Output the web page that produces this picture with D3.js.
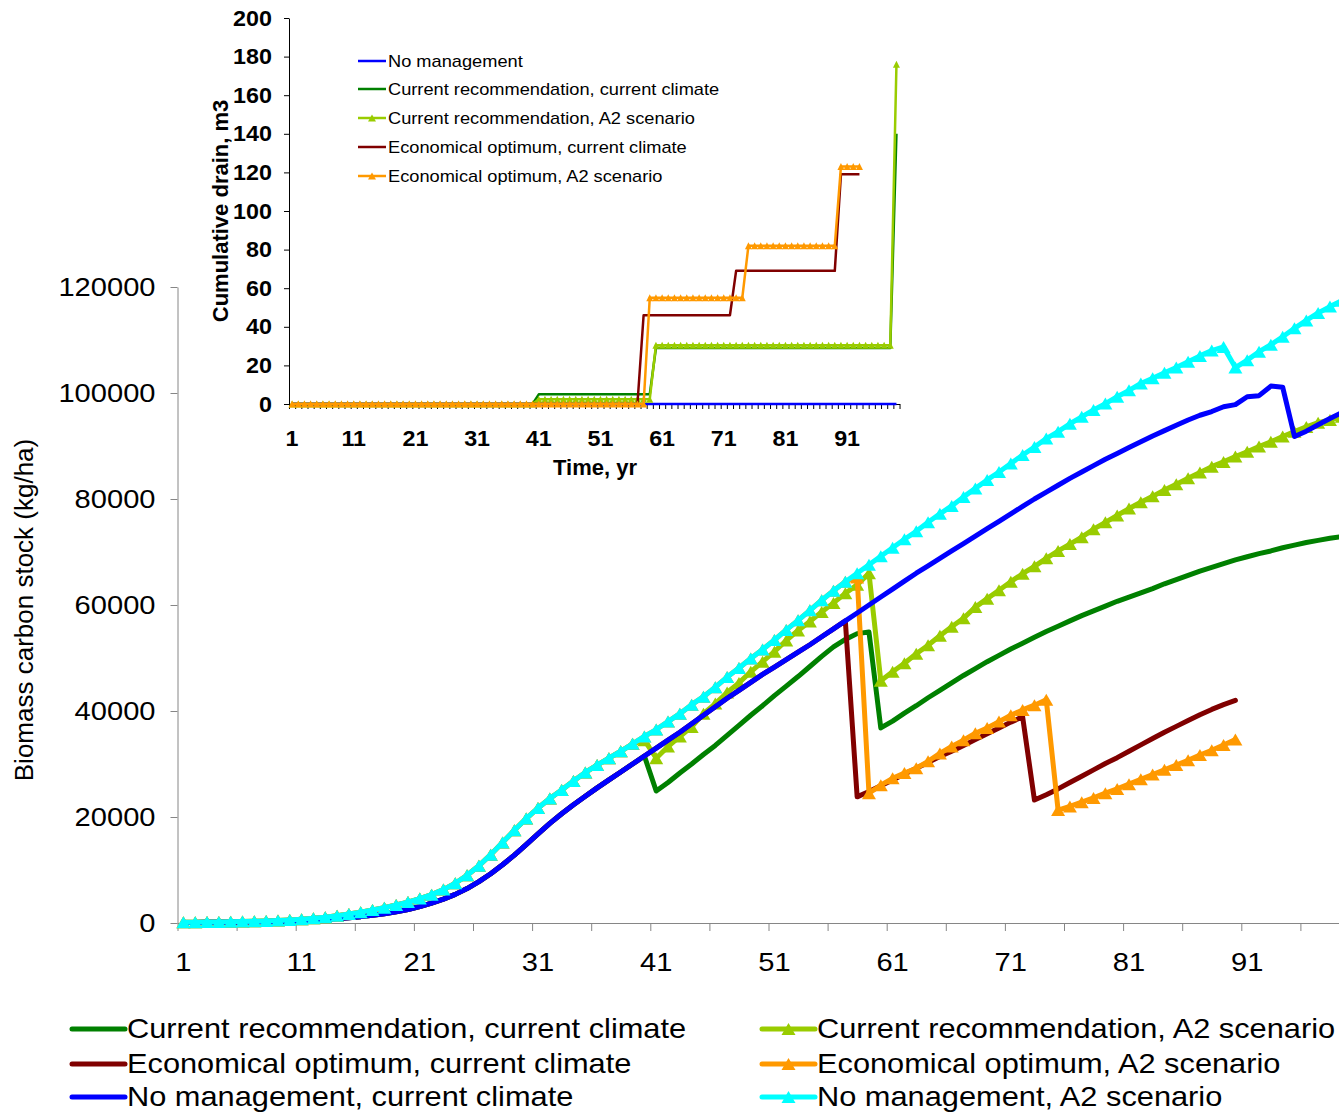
<!DOCTYPE html>
<html>
<head>
<meta charset="utf-8">
<script src="https://cdn.jsdelivr.net/npm/d3@7"></script>
<style>
  body { margin: 0; background: #fff; }
  svg { display: block; font-family: Arial, "Liberation Sans", sans-serif; }
</style>
</head>
<body>
<svg id="chart" width="1339" height="1112"></svg>
<script>
// ---- data ----
const years = d3.range(1, 100);
const xLabels = [1, 11, 21, 31, 41, 51, 61, 71, 81, 91];
const yTicks = [0, 20000, 40000, 60000, 80000, 100000, 120000];
const insetYTicks = [0, 20, 40, 60, 80, 100, 120, 140, 160, 180, 200];

const seriesNames = [
	"Current recommendation, current climate",
	"Current recommendation, A2 scenario",
	"Economical optimum, current climate",
	"Economical optimum, A2 scenario",
	"No management, current climate",
	"No management, A2 scenario"
];
const insetNames = [
	"No management",
	"Current recommendation, current climate",
	"Current recommendation, A2 scenario",
	"Economical optimum, current climate",
	"Economical optimum, A2 scenario"
];

// biomass carbon stock, kg/ha, year 1..
const recCurrent = [
	100, 110, 120, 140, 160, 190, 220, 260, 310, 380,
	460, 560, 680, 830, 1000, 1200, 1450, 1750, 2100, 2550,
	3100, 3750, 4500, 5400, 6500, 7800, 9300, 11000, 12800, 14800,
	16800, 18800, 20600, 22300, 23900, 25500, 27000, 28500, 30000, 31500,
	24900, 26500, 28300, 30000, 31800, 33500, 35400, 37300, 39200, 41000,
	42900, 44700, 46500, 48400, 50300, 52100, 53500, 54600, 54900, 36800,
	38100, 39600, 41000, 42500, 43900, 45300, 46700, 48000, 49300, 50500,
	51700, 52800, 53900, 55000, 56000, 57000, 58000, 58900, 59800, 60700,
	61500, 62300, 63100, 64000, 64800, 65600, 66400, 67100, 67800, 68500,
	69100, 69700, 70200, 70800, 71300, 71800, 72200, 72600, 72900
];
const recA2 = [
	150, 160, 180, 200, 230, 270, 320, 380, 460, 560,
	700, 880, 1100, 1380, 1700, 2050, 2450, 2900, 3400, 3950,
	4600, 5350, 6300, 7500, 9000, 10800, 12900, 15200, 17500, 19700,
	21700, 23500, 25100, 26800, 28400, 29800, 31100, 32400, 33800, 34500,
	31100, 33300, 35200, 37000, 39500, 41400, 43500, 45300, 47400, 49300,
	51200, 53300, 55200, 56900, 58700, 60400, 62200, 63800, 66000, 45700,
	47400, 49000, 50800, 52400, 54200, 55900, 57500, 59600, 61200, 62800,
	64400, 65900, 67300, 68800, 70200, 71500, 72800, 74300, 75600, 76900,
	78200, 79400, 80500, 81700, 82800, 83900, 85000, 86100, 87000, 88000,
	88900, 89900, 90800, 91800, 92700, 93600, 94400, 94900, 95500
];
const ecoCurrent = [
	100, 110, 120, 140, 160, 190, 220, 260, 310, 380,
	460, 560, 680, 830, 1000, 1200, 1450, 1750, 2100, 2550,
	3100, 3750, 4500, 5400, 6500, 7800, 9300, 11000, 12800, 14800,
	16800, 18800, 20600, 22300, 23900, 25500, 27000, 28500, 30000, 31500,
	33000, 34500, 36000, 37600, 39200, 40800, 42400, 43900, 45400, 46900,
	48300, 49700, 51100, 52500, 54000, 55500, 57000, 23800, 24800, 25900,
	27000, 28100, 29200, 30300, 31400, 32400, 33500, 34600, 35700, 36800,
	37900, 38900, 23200, 24200, 25300, 26500, 27700, 28900, 30100, 31200,
	32400, 33600, 34800, 36000, 37100, 38200, 39300, 40300, 41200, 42000
];
const ecoA2 = [
	150, 160, 180, 200, 230, 270, 320, 380, 460, 560,
	700, 880, 1100, 1380, 1700, 2050, 2450, 2900, 3400, 3950,
	4600, 5350, 6300, 7500, 9000, 10800, 12900, 15200, 17500, 19700,
	21700, 23500, 25100, 26800, 28400, 29800, 31100, 32400, 33800, 35200,
	36500, 38000, 39500, 41200, 42700, 44500, 46400, 48100, 49900, 51600,
	53400, 55300, 57100, 59000, 60900, 62700, 64400, 65200, 24500, 26000,
	27300, 28300, 29200, 30500, 32000, 33300, 34500, 35800, 36800, 38000,
	39200, 40200, 41100, 42100, 21300, 22000, 22800, 23600, 24500, 25300,
	26200, 27100, 28000, 28900, 29800, 30700, 31700, 32600, 33600, 34600
];
const noneCurrent = [
	100, 110, 120, 140, 160, 190, 220, 260, 310, 380,
	460, 560, 680, 830, 1000, 1200, 1450, 1750, 2100, 2550,
	3100, 3750, 4500, 5400, 6500, 7800, 9300, 11000, 12800, 14800,
	16800, 18800, 20600, 22300, 23900, 25500, 27000, 28500, 30000, 31500,
	33000, 34500, 36000, 37600, 39200, 40800, 42400, 43900, 45400, 46900,
	48300, 49700, 51100, 52500, 54000, 55500, 57000, 58500, 60000, 61500,
	63000, 64500, 66000, 67400, 68800, 70200, 71600, 73000, 74400, 75800,
	77200, 78600, 80000, 81300, 82600, 83900, 85100, 86300, 87500, 88600,
	89700, 90800, 91900, 92900, 93900, 94900, 95800, 96500, 97400, 97800,
	99300, 99500, 101300, 101100, 91800, 92800, 94000, 95200, 96300
];
const noneA2 = [
	150, 160, 180, 200, 230, 270, 320, 380, 460, 560,
	700, 880, 1100, 1380, 1700, 2050, 2450, 2900, 3400, 3950,
	4600, 5350, 6300, 7500, 9000, 10800, 12900, 15200, 17500, 19700,
	21700, 23500, 25100, 26800, 28400, 29800, 31100, 32400, 33800, 35200,
	36500, 38000, 39500, 41200, 42700, 44500, 46400, 48100, 49900, 51600,
	53400, 55300, 57100, 59000, 60900, 62700, 64400, 66000, 67600, 69200,
	70800, 72400, 73900, 75600, 77200, 78700, 80400, 82000, 83600, 85100,
	86700, 88300, 89800, 91400, 92700, 94200, 95500, 96800, 98000, 99300,
	100500, 101800, 102800, 103800, 104800, 105900, 107000, 108000, 108700, 104800,
	106200, 107800, 109100, 110600, 112200, 113700, 115100, 116300, 117400
];

// cumulative drain, m3, year 1..
const drainNone = [
	0, 0, 0, 0, 0, 0, 0, 0, 0, 0,
	0, 0, 0, 0, 0, 0, 0, 0, 0, 0,
	0, 0, 0, 0, 0, 0, 0, 0, 0, 0,
	0, 0, 0, 0, 0, 0, 0, 0, 0, 0,
	0, 0, 0, 0, 0, 0, 0, 0, 0, 0,
	0, 0, 0, 0, 0, 0, 0, 0, 0, 0,
	0, 0, 0, 0, 0, 0, 0, 0, 0, 0,
	0, 0, 0, 0, 0, 0, 0, 0, 0, 0,
	0, 0, 0, 0, 0, 0, 0, 0, 0, 0,
	0, 0, 0, 0, 0, 0, 0, 0, 0
];
const drainRecCurrent = [
	0, 0, 0, 0, 0, 0, 0, 0, 0, 0,
	0, 0, 0, 0, 0, 0, 0, 0, 0, 0,
	0, 0, 0, 0, 0, 0, 0, 0, 0, 0,
	0, 0, 0, 0, 0, 0, 0, 0, 0, 0,
	5, 5, 5, 5, 5, 5, 5, 5, 5, 5,
	5, 5, 5, 5, 5, 5, 5, 5, 5, 29,
	29, 29, 29, 29, 29, 29, 29, 29, 29, 29,
	29, 29, 29, 29, 29, 29, 29, 29, 29, 29,
	29, 29, 29, 29, 29, 29, 29, 29, 29, 29,
	29, 29, 29, 29, 29, 29, 29, 29, 140
];
const drainRecA2 = [
	0, 0, 0, 0, 0, 0, 0, 0, 0, 0,
	0, 0, 0, 0, 0, 0, 0, 0, 0, 0,
	0, 0, 0, 0, 0, 0, 0, 0, 0, 0,
	0, 0, 0, 0, 0, 0, 0, 0, 0, 0,
	2.5, 2.5, 2.5, 2.5, 2.5, 2.5, 2.5, 2.5, 2.5, 2.5,
	2.5, 2.5, 2.5, 2.5, 2.5, 2.5, 2.5, 2.5, 2.5, 30.5,
	30.5, 30.5, 30.5, 30.5, 30.5, 30.5, 30.5, 30.5, 30.5, 30.5,
	30.5, 30.5, 30.5, 30.5, 30.5, 30.5, 30.5, 30.5, 30.5, 30.5,
	30.5, 30.5, 30.5, 30.5, 30.5, 30.5, 30.5, 30.5, 30.5, 30.5,
	30.5, 30.5, 30.5, 30.5, 30.5, 30.5, 30.5, 30.5, 176
];
const drainEcoCurrent = [
	0, 0, 0, 0, 0, 0, 0, 0, 0, 0,
	0, 0, 0, 0, 0, 0, 0, 0, 0, 0,
	0, 0, 0, 0, 0, 0, 0, 0, 0, 0,
	0, 0, 0, 0, 0, 0, 0, 0, 0, 0,
	0, 0, 0, 0, 0, 0, 0, 0, 0, 0,
	0, 0, 0, 0, 0, 0, 0, 46, 46, 46,
	46, 46, 46, 46, 46, 46, 46, 46, 46, 46,
	46, 46, 69, 69, 69, 69, 69, 69, 69, 69,
	69, 69, 69, 69, 69, 69, 69, 69, 69, 119,
	119, 119, 119
];
const drainEcoA2 = [
	0, 0, 0, 0, 0, 0, 0, 0, 0, 0,
	0, 0, 0, 0, 0, 0, 0, 0, 0, 0,
	0, 0, 0, 0, 0, 0, 0, 0, 0, 0,
	0, 0, 0, 0, 0, 0, 0, 0, 0, 0,
	0, 0, 0, 0, 0, 0, 0, 0, 0, 0,
	0, 0, 0, 0, 0, 0, 0, 0, 55, 55,
	55, 55, 55, 55, 55, 55, 55, 55, 55, 55,
	55, 55, 55, 55, 82, 82, 82, 82, 82, 82,
	82, 82, 82, 82, 82, 82, 82, 82, 82, 123,
	123, 123, 123
];

// ---- styles ----
const colors = ["#008000", "#99CC00", "#800000", "#FF9900", "#0000FF", "#00FFFF"];
const hasMarker = [false, true, false, true, false, true];
const mainSeries = [recCurrent, recA2, ecoCurrent, ecoA2, noneCurrent, noneA2];
const insetSeries = [drainNone, drainRecCurrent, drainRecA2, drainEcoCurrent, drainEcoA2];
const insetColors = ["#0000FF", "#008000", "#99CC00", "#800000", "#FF9900"];
const insetMarker = [false, false, true, false, true];

const SX = 1.12; // text is a bit wide in the original
const svg = d3.select("#chart");

const tri = (w, h) => `M0,${-h / 2}L${w / 2},${h / 2}L${-w / 2},${h / 2}Z`;

function stretch(sel, k) {
	sel.each(function () {
		const t = d3.select(this);
		t.attr("x", (+t.attr("x") || 0) / k).attr("transform", `scale(${k},1)`);
	});
}

function label(parent, x, y, txt, opts) {
	const g = parent.append("g").attr("transform", `translate(${x},${y}) ${opts.rotate ? "rotate(-90)" : ""} scale(${opts.k || 1},1)`);
	g.append("text")
		.attr("text-anchor", opts.anchor || "start")
		.attr("dy", "0.35em")
		.attr("font-size", opts.size)
		.attr("font-weight", opts.bold ? "bold" : null)
		.attr("fill", "#000")
		.text(txt);
	return g;
}

// ---- main chart ----
const x = d3.scaleBand().domain(years).range([177.5, 177.5 + 99 * 11.82]);
const xb = d3.scaleLinear().domain([0, 99]).range(x.range());
const y = d3.scaleLinear().domain([0, 120000]).range([923, 287]);
const cx = (i) => x(years[i]) + x.bandwidth() / 2;

const gy = svg.append("g")
	.attr("transform", "translate(177.5,0)")
	.call(d3.axisLeft(y).tickValues(yTicks).tickSize(7).tickSizeOuter(0).tickPadding(15).tickFormat(d3.format("d")))
	.attr("font-family", null).attr("font-size", null);
gy.select(".domain").attr("stroke", "#868686");
gy.selectAll(".tick line").attr("stroke", "#868686");
gy.selectAll("text").attr("font-size", 26).attr("fill", "#000");
stretch(gy.selectAll("text"), SX);

const gx = svg.append("g")
	.attr("transform", "translate(0,923)")
	.call(d3.axisBottom(xb).tickValues(d3.range(0, 100, 5)).tickSize(8).tickSizeOuter(0).tickFormat(""));
gx.select(".domain").attr("stroke", "#868686");
gx.selectAll(".tick line").attr("stroke", "#868686");

const gxl = svg.append("g")
	.attr("transform", "translate(0,923)")
	.call(d3.axisBottom(x).tickValues(xLabels).tickSize(0).tickPadding(30))
	.attr("font-family", null).attr("font-size", null);
gxl.select(".domain").remove();
gxl.selectAll("text").attr("font-size", 26).attr("fill", "#000");
stretch(gxl.selectAll("text"), SX);

label(svg, 24, 610, "Biomass carbon stock (kg/ha)", { size: 26, anchor: "middle", rotate: true });

const line = d3.line().x((d, i) => cx(i)).y((d) => y(d));

mainSeries.forEach((s, k) => {
	svg.append("path")
		.datum(s)
		.attr("d", line)
		.attr("fill", "none")
		.attr("stroke", colors[k])
		.attr("stroke-width", 5)
		.attr("stroke-linejoin", "round")
		.attr("stroke-linecap", "round");
	if (hasMarker[k]) {
		svg.append("g").selectAll("path")
			.data(s)
			.join("path")
			.attr("transform", (d, i) => `translate(${cx(i)},${y(d)})`)
			.attr("d", tri(14, 12))
			.attr("fill", colors[k]);
	}
});

// main legend
const legendPos = [[72, 1029], [762, 1029], [72, 1064], [762, 1064], [72, 1097], [762, 1097]];
seriesNames.forEach((name, k) => {
	const [lx, ly] = legendPos[k];
	svg.append("line")
		.attr("x1", lx).attr("x2", lx + 53).attr("y1", ly).attr("y2", ly)
		.attr("stroke", colors[k]).attr("stroke-width", 5).attr("stroke-linecap", "round");
	if (hasMarker[k]) {
		svg.append("path").attr("transform", `translate(${lx + 26.5},${ly})`).attr("d", tri(14, 12)).attr("fill", colors[k]);
	}
	label(svg, lx + 55, ly, name, { size: 27, k: 1.14 });
});

// ---- inset chart ----
const ix = d3.scaleBand().domain(years).range([289, 289 + 99 * 6.167]);
const ixb = d3.scaleLinear().domain([0, 99]).range(ix.range());
const iy = d3.scaleLinear().domain([0, 200]).range([404, 18]);
const icx = (i) => ix(years[i]) + ix.bandwidth() / 2;

const iyAxis = svg.append("g")
	.attr("transform", "translate(289,0)")
	.call(d3.axisLeft(iy).tickValues(insetYTicks).tickSize(5).tickSizeOuter(0).tickPadding(12))
	.attr("font-family", null).attr("font-size", null);
iyAxis.selectAll("text").attr("font-size", 22).attr("font-weight", "bold").attr("fill", "#000");
stretch(iyAxis.selectAll("text"), 1.06);

const ixAxis = svg.append("g")
	.attr("transform", "translate(0,404)")
	.call(d3.axisBottom(ixb).tickValues(d3.range(0, 100)).tickSize(5).tickSizeOuter(0).tickFormat(""));

const ixLabels = svg.append("g")
	.attr("transform", "translate(0,404)")
	.call(d3.axisBottom(ix).tickValues(xLabels).tickSize(0).tickPadding(26))
	.attr("font-family", null).attr("font-size", null);
ixLabels.select(".domain").remove();
ixLabels.selectAll("text").attr("font-size", 22).attr("font-weight", "bold").attr("fill", "#000");
stretch(ixLabels.selectAll("text"), 1.06);

label(svg, 595, 467, "Time, yr", { size: 22, bold: true, anchor: "middle" });
label(svg, 220, 211, "Cumulative drain, m3", { size: 22, bold: true, anchor: "middle", rotate: true });

const iline = d3.line().x((d, i) => icx(i)).y((d) => iy(d));
insetSeries.forEach((s, k) => {
	svg.append("path")
		.datum(s)
		.attr("d", iline)
		.attr("fill", "none")
		.attr("stroke", insetColors[k])
		.attr("stroke-width", 2.5)
		.attr("stroke-linejoin", "round");
	if (insetMarker[k]) {
		svg.append("g").selectAll("path")
			.data(s)
			.join("path")
			.attr("transform", (d, i) => `translate(${icx(i)},${iy(d)})`)
			.attr("d", tri(7, 7))
			.attr("fill", insetColors[k]);
	}
});

// inset legend
insetNames.forEach((name, k) => {
	const ly = [61, 89, 118, 147, 176][k];
	svg.append("line")
		.attr("x1", 358).attr("x2", 386).attr("y1", ly).attr("y2", ly)
		.attr("stroke", insetColors[k]).attr("stroke-width", 2.5);
	if (insetMarker[k]) {
		svg.append("path").attr("transform", `translate(372,${ly})`).attr("d", tri(8, 7)).attr("fill", insetColors[k]);
	}
	label(svg, 388, ly, name, { size: 16, k: 1.14 });
});
</script>
</body>
</html>
